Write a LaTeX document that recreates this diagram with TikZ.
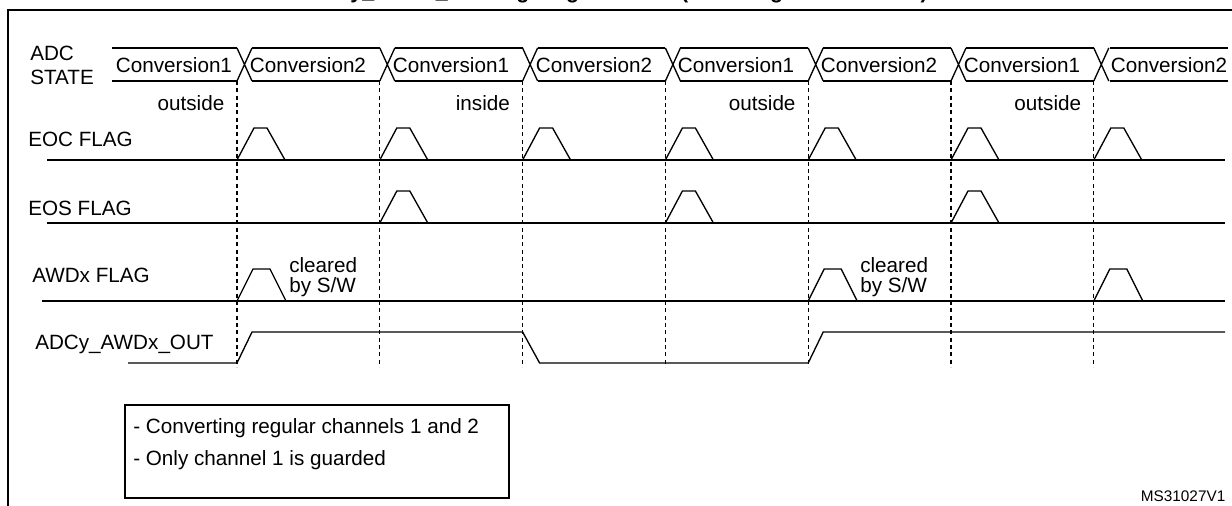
\documentclass[tikz,border=0pt]{standalone}
\usepackage{fontspec}
\setmainfont{Liberation Sans}
\begin{document}
\begin{tikzpicture}[x=0.75pt,y=-0.75pt,font=\fontsize{15.5}{18}\selectfont,
    sig/.style={line width=1pt},
    grid/.style={line width=0.8pt,dash pattern=on 3pt off 2.5pt},
    lbl/.style={anchor=west,inner sep=0pt,align=left}]
    \useasboundingbox (0,0) rectangle (1232,506);
    % frame and cut title
    \draw[line width=2.2pt] (8,520) -- (8,10) -- (1245,10);
    \node[anchor=base,font=\bfseries\fontsize{16}{18}\selectfont] (title) at (616,-1) {ADCy\_AWDx\_OUT signal generation (on all regular channels)};

    % signal names
    \node[lbl,align=left] (adc) at (30,65) {ADC\\STATE};
    \node[lbl] (eoc) at (28,139) {EOC FLAG};
    \node[lbl] (eos) at (28,208) {EOS FLAG};
    \node[lbl] (awd) at (32,275) {AWDx FLAG};
    \node[lbl] (out) at (35,344) {ADCy\_AWDx\_OUT};

    % ADC state bus
    \draw[sig] (112,48) -- (237,48) (112,81) -- (237,81);
    \foreach \k in {0,...,6}{
      \pgfmathsetmacro\d{237+142.8*\k}
      \pgfmathsetmacro\e{237+142.8*(\k+1)}
      \draw[sig] (\d,48) -- ++(15,33) (\d,81) -- ++(15,-33);
      \draw[grid] (\d,81) -- (\d,367);
      \ifnum\k<6 \draw[sig] (\d+15,48) -- (\e,48) (\d+15,81) -- (\e,81); \fi
    }
    \draw[sig] (1109.6,48) -- (1228,48) (1109.6,81) -- (1228,81);
    \foreach \c/\t [count=\i] in {174/Conversion1,308/Conversion2,451/Conversion1,594/Conversion2,736/Conversion1,879/Conversion2,1022/Conversion1,1169/Conversion2}
      \node[inner sep=0pt] (conv\i) at (\c,65) {\t};

    % window status
    \foreach \d/\t [count=\i] in {237/outside,522.6/inside,808.2/outside,1093.8/outside}
      \node[anchor=east] (win\i) at (\d-8,103) {\t};

    % EOC flag
    \draw[sig] (47,160) -- (1225,160);
    \foreach \k in {0,...,6}
      \draw[sig] (237+142.8*\k,160) -- ++(17,-32) -- ++(13,0) -- ++(18,32);

    % EOS flag
    \draw[sig] (47,223) -- (1225,223);
    \foreach \k in {1,3,5}
      \draw[sig] (237+142.8*\k,223) -- ++(17,-32) -- ++(13,0) -- ++(18,32);

    % AWDx flag
    \draw[sig] (42,301) -- (1225,301);
    \foreach \k in {0,4,6}
      \draw[sig] (237+142.8*\k,301) -- ++(16,-32) -- ++(17,0) -- ++(16,32);
    \node[lbl,font=\fontsize{15.5}{15}\selectfont] (clr1) at (289,277) {cleared\\by S/W};
    \node[lbl,font=\fontsize{15.5}{15}\selectfont] (clr2) at (860,277) {cleared\\by S/W};

    % ADCy_AWDx_OUT
    \draw[sig] (128,363) -- (237,363) -- ++(15,-31) -- (522.6,332) -- ++(17,31) -- (808.2,363) -- ++(15,-31) -- (1225,332);

    % note
    \draw[line width=0.8pt] (125,405) rectangle (509,498);
    \node[lbl,font=\fontsize{15.5}{24}\selectfont] (note) at (133,444) {- Converting regular channels 1 and 2\\- Only channel 1 is guarded};
    \node[anchor=east,font=\fontsize{11.5}{12}\selectfont] (ref) at (1230,496) {MS31027V1};
\end{tikzpicture}
\end{document}
